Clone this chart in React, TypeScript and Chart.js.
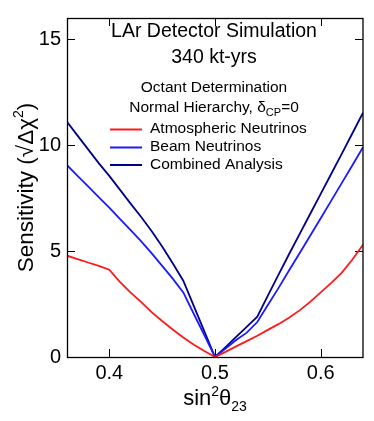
import React, { useEffect, useRef } from 'react';
import { Chart, registerables } from 'chart.js';

Chart.register(...registerables);

const xValues = [0.36, 0.37, 0.38, 0.39, 0.4, 0.41, 0.42, 0.43, 0.44, 0.45, 0.46, 0.47, 0.48, 0.49, 0.5,
  0.51, 0.52, 0.53, 0.54, 0.55, 0.56, 0.57, 0.58, 0.59, 0.6, 0.61, 0.62, 0.63, 0.64];
const atmospheric = [4.78, 4.62, 4.46, 4.3, 4.12, 3.55, 3.05, 2.6, 2.12, 1.7, 1.3, 0.92, 0.58, 0.28, 0,
  0.24, 0.5, 0.75, 1.0, 1.28, 1.55, 1.85, 2.2, 2.6, 3.05, 3.5, 3.98, 4.6, 5.3];
const beam = [9.05, 8.55, 8.05, 7.55, 7.05, 6.52, 6.0, 5.47, 4.9, 4.3, 3.7, 3.05, 2.03, 1.02, 0,
  0.4, 0.8, 1.15, 1.65, 2.45, 3.25, 4.08, 4.9, 5.72, 6.55, 7.38, 8.22, 9.05, 9.9];
const combined = [11.1, 10.45, 9.8, 9.15, 8.55, 7.9, 7.25, 6.62, 5.95, 5.22, 4.42, 3.6, 2.4, 1.2, 0,
  0.47, 0.95, 1.42, 1.9, 2.9, 3.88, 4.85, 5.8, 6.75, 7.7, 8.65, 9.6, 10.56, 11.53];
const seriesNames = ['Atmospheric Neutrinos', 'Beam Neutrinos', 'Combined Analysis'];
const seriesColors = ['#ff1a1a', '#1a1aff', '#000088'];
const xTicks = [0.4, 0.5, 0.6];
const yTicks = [0, 5, 10, 15];
const titleLines = ['LAr Detector Simulation', '340 kt-yrs'];
const subtitle = 'Octant Determination';

const FONT = '"Liberation Sans", Arial, Helvetica, sans-serif';

const decorPlugin = {
  id: 'decor',
  beforeDatasetsDraw(chart: any) {
    const { ctx, chartArea: a, scales } = chart;
    ctx.save();
    ctx.strokeStyle = '#000';
    ctx.lineWidth = 1;
    const tl = 8;
    xTicks.forEach((v) => {
      const px = Math.round(scales.x.getPixelForValue(v)) + 0.5;
      ctx.beginPath();
      ctx.moveTo(px, a.bottom);
      ctx.lineTo(px, a.bottom - tl);
      ctx.moveTo(px, a.top);
      ctx.lineTo(px, a.top + tl);
      ctx.stroke();
    });
    yTicks.forEach((v) => {
      const py = Math.round(scales.y.getPixelForValue(v)) + 0.5;
      ctx.beginPath();
      ctx.moveTo(a.left, py);
      ctx.lineTo(a.left + tl, py);
      ctx.moveTo(a.right, py);
      ctx.lineTo(a.right - tl, py);
      ctx.stroke();
    });
    ctx.restore();
  },
  afterDraw(chart: any) {
    const { ctx, chartArea: a } = chart;
    ctx.save();
    ctx.strokeStyle = '#000';
    ctx.lineWidth = 1.3;
    ctx.strokeRect(a.left + 0.5, a.top + 0.5, a.right - a.left - 0.5, a.bottom - a.top);

    const cx = 214;
    ctx.fillStyle = '#000';
    ctx.textAlign = 'center';
    ctx.textBaseline = 'alphabetic';
    ctx.font = `19.5px ${FONT}`;
    ctx.fillText(titleLines[0], cx, 37);
    ctx.fillText(titleLines[1], cx, 63);
    ctx.font = `15.5px ${FONT}`;
    ctx.fillText(subtitle, cx, 91.5);

    // Normal Hierarchy, δCP=0
    const parts = [
      { t: 'Normal Hierarchy, \u03B4', f: 15.5, dy: 0 },
      { t: 'CP', f: 11, dy: 4 },
      { t: '=0', f: 15.5, dy: 0 },
    ];
    ctx.textAlign = 'left';
    let total = 0;
    parts.forEach((p) => { ctx.font = `${p.f}px ${FONT}`; total += ctx.measureText(p.t).width; });
    let x = cx - total / 2;
    parts.forEach((p) => {
      ctx.font = `${p.f}px ${FONT}`;
      ctx.fillText(p.t, x, 111.5 + p.dy);
      x += ctx.measureText(p.t).width;
    });

    // legend
    const rows = [129.5, 147.5, 165];
    chart.data.datasets.forEach((ds: any, i: number) => {
      ctx.strokeStyle = ds.borderColor;
      ctx.lineWidth = 2;
      ctx.beginPath();
      ctx.moveTo(110, rows[i]);
      ctx.lineTo(142, rows[i]);
      ctx.stroke();
      ctx.fillStyle = '#000';
      ctx.font = `15.5px ${FONT}`;
      ctx.textBaseline = 'middle';
      ctx.fillText(ds.label, 150, rows[i] - 0.5);
    });

    // x title: sin²θ23
    ctx.textBaseline = 'alphabetic';
    const xp = [
      { t: 'sin', f: 22, dy: 0 },
      { t: '2', f: 14, dy: -9 },
      { t: '\u03B8', f: 22, dy: 0 },
      { t: '23', f: 14, dy: 6 },
    ];
    total = 0;
    xp.forEach((p) => { ctx.font = `${p.f}px ${FONT}`; total += ctx.measureText(p.t).width; });
    x = (a.left + a.right) / 2 - total / 2;
    xp.forEach((p) => {
      ctx.font = `${p.f}px ${FONT}`;
      ctx.fillText(p.t, x, 405 + p.dy);
      x += ctx.measureText(p.t).width;
    });

    // y title: Sensitivity (√Δχ²)
    const yp = [
      { t: 'Sensitivity (\u221A\u0394\u03C7', f: 22.5, dy: 0 },
      { t: '2', f: 14, dy: -10 },
      { t: ')', f: 22.5, dy: 0 },
    ];
    ctx.translate(33, (a.top + a.bottom) / 2);
    ctx.rotate(-Math.PI / 2);
    total = 0;
    yp.forEach((p) => { ctx.font = `${p.f}px ${FONT}`; total += ctx.measureText(p.t).width; });
    x = -total / 2;
    yp.forEach((p) => {
      ctx.font = `${p.f}px ${FONT}`;
      ctx.fillText(p.t, x, p.dy);
      x += ctx.measureText(p.t).width;
    });
    ctx.restore();
  },
};

export default function App() {
  const ref = useRef<HTMLCanvasElement>(null);
  useEffect(() => {
    if (!ref.current) return;
    const series = [atmospheric, beam, combined];
    const chart = new Chart(ref.current, {
      type: 'line',
      data: {
        datasets: series.map((vals, i) => ({
          label: seriesNames[i],
          data: xValues.map((xv, j) => ({ x: xv, y: vals[j] })),
          borderColor: seriesColors[i],
          backgroundColor: seriesColors[i],
          borderWidth: 1.8,
          pointRadius: 0,
          tension: 0,
          fill: false,
        })),
      },
      options: {
        animation: false,
        responsive: false,
        devicePixelRatio: 1,
        layout: { padding: { top: 14, right: 11, left: 0, bottom: 0 } },
        plugins: { legend: { display: false }, tooltip: { enabled: false }, title: { display: false } },
        scales: {
          x: {
            type: 'linear',
            min: 0.36,
            max: 0.64,
            afterFit: (s: any) => { s.height = 64; },
            afterBuildTicks: (s: any) => { s.ticks = xTicks.map((v) => ({ value: v })); },
            grid: { display: false, drawTicks: false },
            border: { display: false },
            ticks: {
              padding: 4,
              color: '#000',
              font: { family: FONT, size: 20 },
              maxRotation: 0,
              callback: (v: any) => Number(v).toFixed(1),
            },
          },
          y: {
            type: 'linear',
            min: 0,
            max: 16,
            afterFit: (s: any) => { s.width = 67; },
            afterBuildTicks: (s: any) => { s.ticks = yTicks.map((v) => ({ value: v })); },
            grid: { display: false, drawTicks: false },
            border: { display: false },
            ticks: {
              padding: 6,
              color: '#000',
              font: { family: FONT, size: 20 },
              callback: (v: any) => String(v),
            },
          },
        },
      },
      plugins: [decorPlugin],
    } as any);
    return () => chart.destroy();
  }, []);
  return (
    <div style={{ position: 'absolute', left: 0, top: 0, width: 374, height: 421, background: '#fff' }}>
      <canvas ref={ref} width={374} height={421} style={{ display: 'block', width: 374, height: 421 }} />
    </div>
  );
}
